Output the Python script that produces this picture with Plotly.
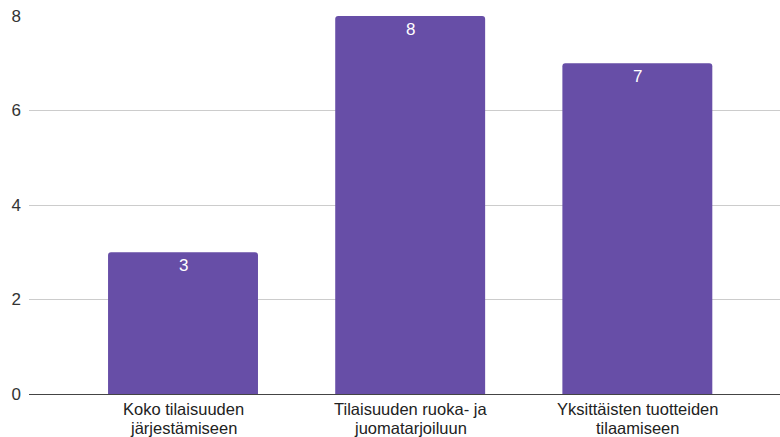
import plotly.graph_objects as go

categories = ["Koko tilaisuuden järjestämiseen",
              "Tilaisuuden ruoka- ja juomatarjoiluun",
              "Yksittäisten tuotteiden tilaamiseen"]
category_lines = [["Koko tilaisuuden", "järjestämiseen"],
                  ["Tilaisuuden ruoka- ja", "juomatarjoiluun"],
                  ["Yksittäisten tuotteiden", "tilaamiseen"]]
values = [3, 8, 7]
y_ticks = [0, 2, 4, 6, 8]

FONT = "Liberation Sans, Arial, sans-serif"
BAR_COLOR = "#674ea7"

fig = go.Figure(
    go.Bar(
        x=categories,
        y=values,
        marker=dict(color=BAR_COLOR, cornerradius=3, line=dict(width=0)),
        width=0.66,
        hoverinfo="skip",
    )
)

# value labels just inside the top of each bar
for cat, val in zip(categories, values):
    fig.add_annotation(
        x=cat, y=val, xref="x", yref="y",
        text=str(val), showarrow=False,
        yanchor="middle", yshift=-13.5,
        font=dict(color="white", size=17, family=FONT),
    )

# two-line category labels under the axis, tighter line spacing
for cat, lines in zip(categories, category_lines):
    for i, line in enumerate(lines):
        fig.add_annotation(
            x=cat, y=0, xref="x", yref="paper",
            text=line, showarrow=False, borderpad=0,
            yanchor="middle", yshift=-15 - 18.5 * i,
            font=dict(color="#222222", size=16.5, family=FONT),
        )

fig.update_layout(
    width=780,
    height=437,
    margin=dict(l=29, r=0, t=16, b=43),
    paper_bgcolor="white",
    plot_bgcolor="white",
    showlegend=False,
    font=dict(family=FONT, size=17, color="#333333"),
    xaxis=dict(
        range=[-0.678, 2.628],
        showgrid=False,
        showline=False,
        ticks="",
        showticklabels=False,
    ),
    yaxis=dict(
        range=[0, 8],
        tickvals=y_ticks,
        showgrid=True,
        gridcolor="#cccccc",
        gridwidth=1,
        zeroline=True,
        zerolinecolor="#444444",
        zerolinewidth=1,
        ticks="",
        ticklabelstandoff=7,
        tickfont=dict(size=17, color="#333333"),
    ),
)

fig.write_html("out.html")
